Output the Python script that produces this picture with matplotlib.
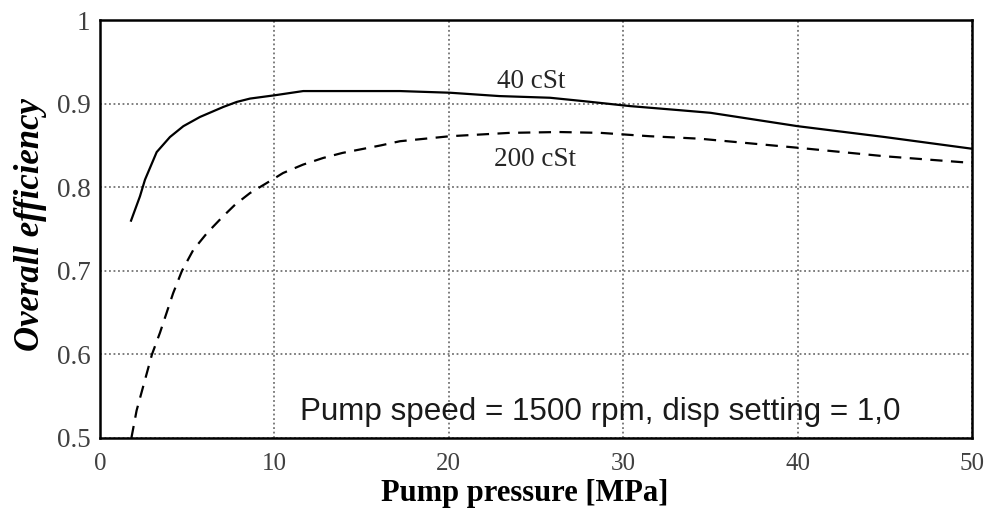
import matplotlib
matplotlib.use("Agg")
import matplotlib.pyplot as plt

# ============================================================
# DADOS
# ============================================================

# 40 cSt (linha cheia)
pressao_40 = [1.78, 2.29, 2.58, 3.25, 4.01, 4.78, 5.73, 7.07, 7.84, 8.6, 10.03, 11.65, 14.0,
              17.2, 20.07, 22.9, 25.8, 27.7, 30.4, 33.3, 35.0, 40.0, 45.0, 50.0]
efic_40 = [0.760, 0.789, 0.809, 0.842, 0.860, 0.873, 0.884, 0.896, 0.902, 0.906, 0.910, 0.915, 0.915,
           0.915, 0.913, 0.909, 0.907, 0.903, 0.897, 0.892, 0.889, 0.873, 0.860, 0.846]

# 200 cSt (tracejada)
pressao_200 = [1.8, 2.1, 2.98, 3.44, 4.19, 4.7, 5.35, 6.13, 7.0, 7.74, 8.6, 9.56,
               10.5, 11.64, 12.8, 13.9, 16.1, 17.2, 20.07, 23.5, 26.3, 28.7,
               31.5, 34.4, 40.1, 45.0, 50.0]
efic_200 = [0.500, 0.533, 0.600, 0.626, 0.673, 0.700, 0.725, 0.745, 0.764, 0.779, 0.793, 0.805,
            0.817, 0.827, 0.835, 0.841, 0.850, 0.855, 0.861, 0.865, 0.866, 0.865,
            0.861, 0.858, 0.847, 0.837, 0.829]

ticks_x = [0, 10, 20, 30, 40, 50]
ticks_y = [0.5, 0.6, 0.7, 0.8, 0.9, 1.0]
rotulos_y = ["0.5", "0.6", "0.7", "0.8", "0.9", "1"]

# ============================================================
# GRÁFICO
# ============================================================

serif = ["Liberation Serif", "DejaVu Serif"]
sans = ["Liberation Sans", "DejaVu Sans"]

fig = plt.figure(figsize=(9.93, 5.09), dpi=100)
ax = fig.add_axes([0.1007, 0.1395, 0.8782, 0.8212])

ax.plot(pressao_40, efic_40, color="black", lw=1.6)
ax.plot(pressao_200, efic_200, color="black", lw=1.6, dashes=(5.5, 3.8))

ax.set_xlim(0, 50)
ax.set_ylim(0.5, 1.0)
ax.set_xticks(ticks_x)
ax.set_yticks(ticks_y)
ax.set_yticklabels(rotulos_y)

ax.grid(True, linestyle=(0, (1, 1.5)), color="0.45", lw=1.3)
for s in ax.spines.values():
    s.set_linewidth(1.8)

ax.tick_params(length=0, colors="0.25")
ax.tick_params(axis="x", pad=11, labelsize=18)
ax.tick_params(axis="y", pad=7, labelsize=19.5)
for lab in ax.get_xticklabels() + ax.get_yticklabels():
    lab.set_family(serif)

ax.set_xlabel("Pump pressure [MPa]", family=serif, fontweight="bold", fontsize=22)
ax.xaxis.label.set_va("baseline")
ax.xaxis.set_label_coords(0.487, -63 / 418)

ax.set_ylabel("Overall efficiency", family=serif, fontweight="bold", style="italic",
              fontsize=25)
ax.yaxis.label.set_va("center")
ax.yaxis.set_label_coords(-0.080, 0.51)

ax.text(24.75, 0.9187, "40 cSt", family=serif, fontsize=19.5, ha="center", va="baseline", color="0.15")
ax.text(24.94, 0.8254, "200 cSt", family=serif, fontsize=19.5, ha="center", va="baseline", color="0.15")
ax.text(28.67, 0.5215, "Pump speed = 1500 rpm, disp setting = 1,0", family=sans,
        fontsize=22.6, ha="center", va="baseline", color="0.1")

fig.savefig("out.png", dpi=100)
